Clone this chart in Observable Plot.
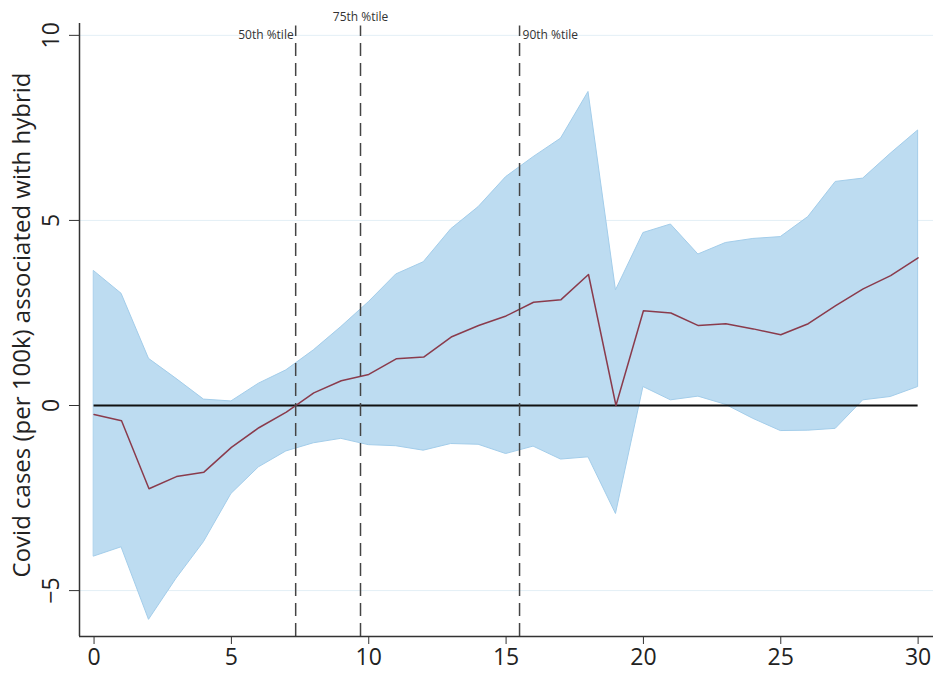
<!DOCTYPE html>
<html>
<head>
<meta charset="utf-8">
<script src="https://cdn.jsdelivr.net/npm/d3@7"></script>
<script src="https://cdn.jsdelivr.net/npm/@observablehq/plot@0.6"></script>
<style>
  body { margin: 0; background: #fff; font-family: "Open Sans", sans-serif; }
  #chart svg { display: block; }
</style>
</head>
<body>
<div id="chart"></div>
<script>
// days (x), point estimate and confidence band
const days = [0,1,2,3,4,5,6,7,8,9,10,11,12,13,14,15,16,17,18,19,20,21,22,23,24,25,26,27,28,29,30]
const estimate = [-0.24,-0.41,-2.25,-1.92,-1.80,-1.13,-0.60,-0.18,0.34,0.67,0.84,1.26,1.31,1.85,2.16,2.42,2.79,2.86,3.54,0,2.56,2.50,2.16,2.21,2.07,1.91,2.21,2.70,3.15,3.51,3.99]
const upper = [3.63,3.02,1.26,0.72,0.16,0.11,0.59,0.95,1.49,2.12,2.79,3.54,3.87,4.76,5.36,6.17,6.71,7.21,8.47,3.11,4.66,4.89,4.08,4.39,4.50,4.55,5.09,6.04,6.13,6.80,7.43]
const lower = [-4.08,-3.83,-5.79,-4.68,-3.69,-2.39,-1.67,-1.24,-1.02,-0.90,-1.07,-1.10,-1.22,-1.04,-1.06,-1.31,-1.11,-1.46,-1.40,-2.93,0.50,0.14,0.24,0.02,-0.36,-0.69,-0.68,-0.63,0.14,0.23,0.50]

// percentile markers
const pctLabels = ['50th %tile', '75th %tile', '90th %tile']
const pctValues = [7.34, 9.70, 15.49]

const xTicks = [0,5,10,15,20,25,30]
const yTicks = [-5,0,5,10]
const xDomain = [-0.53, 30.56]
const yDomain = [-6.24, 10.32]

const rows = days.map((d, i) => ({day: d, est: estimate[i], lo: lower[i], hi: upper[i]}))
const pct = pctLabels.map((l, i) => ({label: l, x: pctValues[i]}))

let chart = Plot.plot({
  width: 939,
  height: 675,
  marginLeft: 79,
  marginRight: 6,
  marginTop: 23,
  marginBottom: 39,
  style: {fontFamily: '"Open Sans", sans-serif', background: '#fff'},
  x: {domain: xDomain},
  y: {domain: yDomain},
  marks: [
    Plot.ruleY(yTicks.filter(d => d !== 0), {stroke: '#e3eff6', strokeWidth: 1}),
    Plot.areaY(rows, {x: 'day', y1: 'lo', y2: 'hi', fill: '#bddcf1', stroke: '#a3cdea', strokeWidth: 1}),
    Plot.ruleY([0], {x1: 0, x2: 30, stroke: '#111', strokeWidth: 2}),
    Plot.lineY(rows, {x: 'day', y: 'est', stroke: '#8a3b4c', strokeWidth: 1.5}),
    Plot.ruleX(pct, {x: 'x', y1: yDomain[0], y2: 10.25, stroke: '#444', strokeWidth: 1.5, strokeDasharray: '13,7'}),
    Plot.text(pct.filter((d, i) => i === 0), {x: 'x', y: 10.1, text: 'label', textAnchor: 'end', dx: -2, dy: 4, fontSize: 12, fill: '#333'}),
    Plot.text(pct.filter((d, i) => i === 1), {x: 'x', y: 10.1, text: 'label', textAnchor: 'middle', dy: -14, fontSize: 12, fill: '#333'}),
    Plot.text(pct.filter((d, i) => i === 2), {x: 'x', y: 10.1, text: 'label', textAnchor: 'start', dx: 3, dy: 4, fontSize: 12, fill: '#333'}),
    Plot.ruleX([xDomain[0]], {stroke: '#333', strokeWidth: 1.5}),
    Plot.ruleY([yDomain[0]], {stroke: '#333', strokeWidth: 1.5}),
    Plot.axisX({ticks: xTicks, tickSize: 8, tickPadding: 4, fontSize: 23, label: null, stroke: '#333', color: '#222'}),
    Plot.axisY({ticks: yTicks, tickSize: 10, tickPadding: 11, fontSize: 23, label: null, tickRotate: -90, textAnchor: 'middle', stroke: '#333', color: '#222'}),
    Plot.text(['Covid cases (per 100k) associated with hybrid'], {frameAnchor: 'left', textAnchor: 'middle', rotate: -90, dx: -57, dy: -5, fontSize: 24, fill: '#222'})
  ]
})
d3.select('#chart').append(() => chart)
</script>
</body>
</html>
